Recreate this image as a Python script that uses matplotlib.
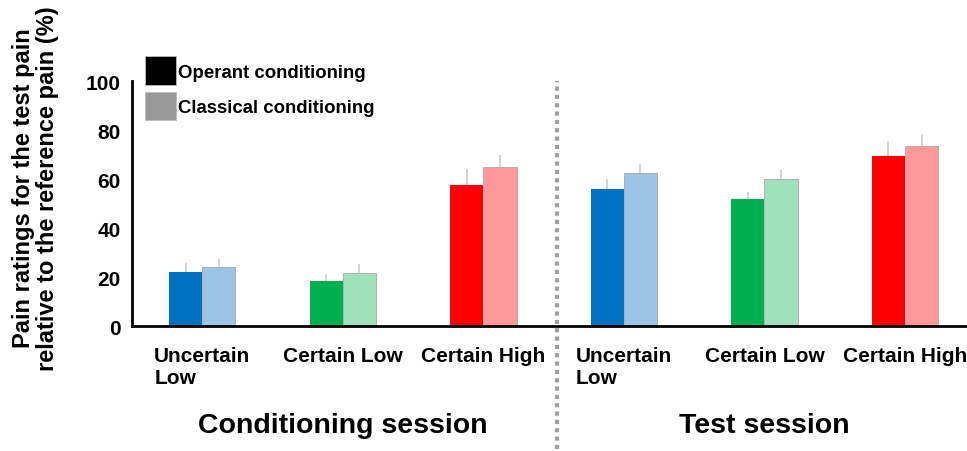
import numpy as np
import matplotlib
matplotlib.use('Agg')
import matplotlib.pyplot as plt
from matplotlib.patches import Patch

plt.rcParams['font.family'] = ['Liberation Sans', 'DejaVu Sans']
plt.rcParams['font.weight'] = 'bold'

conditions = ['Uncertain\nLow', 'Certain Low', 'Certain High',
              'Uncertain\nLow', 'Certain Low', 'Certain High']
operant = [22.0, 18.4, 57.5, 56.2, 51.8, 69.5]
operant_err = [4.0, 3.0, 6.5, 4.0, 3.0, 6.0]
classical = [24.0, 21.6, 65.0, 62.7, 60.0, 73.6]
classical_err = [3.5, 4.0, 5.0, 3.5, 3.7, 4.8]
sessions = ['Conditioning session', 'Test session']

dark_colors = ['#0070C0', '#00B050', '#FF0000'] * 2
light_colors = ['#9DC3E6', '#A0E0BA', '#FF9999'] * 2

fig = plt.figure(figsize=(9.67, 4.52), dpi=100)
ax = fig.add_axes([0.1365, 0.276, 0.872, 0.542])

x = np.arange(len(conditions))
w = 0.236
ax.bar(x - w / 2, operant, w, color=dark_colors, zorder=2)
ax.bar(x + w / 2, classical, w, color=light_colors, edgecolor='#a8a8a8',
       linewidth=0.6, zorder=2)
zeros = np.zeros(len(x))
ax.errorbar(x - w / 2, operant, yerr=[zeros, operant_err], fmt='none',
            ecolor='#cccccc', elinewidth=1.2, capsize=0, zorder=1)
ax.errorbar(x + w / 2, classical, yerr=[zeros, classical_err], fmt='none',
            ecolor='#cccccc', elinewidth=1.2, capsize=0, zorder=1)

ax.set_xlim(-0.5, 5.5)
ax.set_ylim(0, 100)
ax.set_yticks(np.arange(0, 101, 20))
ax.set_xticks(x)
ax.set_xticklabels(conditions, fontsize=15, fontweight='bold',
                   linespacing=1.25, va='top', multialignment='left')
ax.tick_params(axis='y', length=0, pad=8, labelsize=15)
ax.tick_params(axis='x', length=0, pad=14)
for lab in ax.get_yticklabels():
    lab.set_fontweight('bold')
for side in ['top', 'right']:
    ax.spines[side].set_visible(False)
ax.spines['left'].set_linewidth(2)
ax.spines['bottom'].set_linewidth(2)

ax.set_ylabel('Pain ratings for the test pain\nrelative to the reference pain (%)',
              fontsize=17, fontweight='bold', linespacing=1.1)
ax.yaxis.set_label_coords(-0.086, 0.567)

# dotted divider between the two sessions
ax.plot([2.525, 2.525], [-50, 100], ls=(0, (1, 1)), color='#a0a0a0',
        lw=3, clip_on=False, zorder=0)

for cx, name in zip([1, 4], sessions):
    ax.text(cx, -40.5, name, ha='center', va='center', fontsize=20.5,
            fontweight='bold', transform=ax.transData)

handles = [Patch(facecolor='black', edgecolor='#bbbbbb', linewidth=0.6,
                 label='Operant conditioning'),
           Patch(facecolor='#999999', edgecolor='#bbbbbb', linewidth=0.6,
                 label='Classical conditioning')]
ax.legend(handles=handles, loc='upper left', bbox_to_anchor=(0.0, 1.155),
          frameon=False, handlelength=1.65, handleheight=2.0,
          handletextpad=0.1, labelspacing=0.35, borderaxespad=0.3,
          prop={'size': 13.4, 'weight': 'bold'})

fig.savefig('out.png', dpi=100)
